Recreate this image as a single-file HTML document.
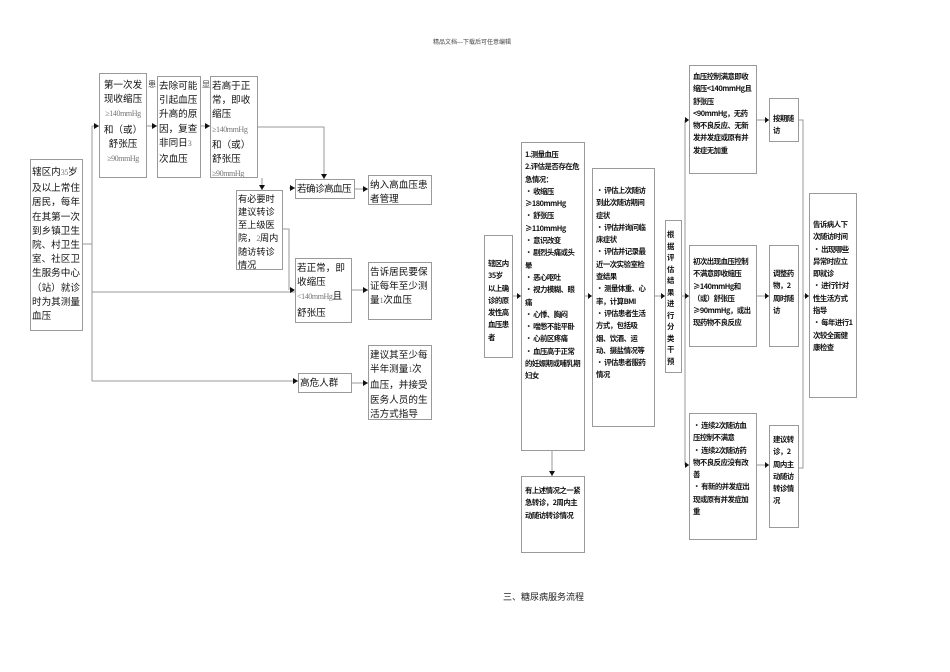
<!DOCTYPE html>
<html><head><meta charset="utf-8"><style>
*{margin:0;padding:0;box-sizing:border-box}
body{width:950px;height:672px;background:#fff;position:relative;overflow:hidden;font-family:"Liberation Sans","Noto Sans CJK SC",sans-serif;color:#111}
.b{position:absolute;border:1px solid #9a9a9a;background:#fff;font-size:9.6px;line-height:14.2px;padding:1px 1px;overflow:hidden;font-family:"Noto Sans CJK SC",sans-serif}
.s{font-size:7.4px;line-height:12.3px;letter-spacing:-0.5px;font-weight:bold;padding:2px 3px}
.g{color:#777;font-family:"Liberation Serif",serif;font-size:8px;letter-spacing:-0.4px}
svg{position:absolute;left:0;top:0}
.t{position:absolute;font-size:6px;color:#444}
</style></head><body>
<div class="t" style="left:433px;top:37px">精品文档---下载后可任意编辑</div>
<svg width="950" height="672" stroke="#999" stroke-width="1" fill="none">
<g>
<path d="M82 244H92M92 126V381M92 126H99M92 292H295M92 381H298"/>
<path d="M147 126H157M201 126H210M258 127H324V179M262 178V190M283 229H289V290M289 188H295M355 189H368M352 290H368M352 383H368"/>
<path d="M513 296H521M552 451V476M585 296H592M655 296H665M681 296H689M685 120V465M685 120H689M685 465H689"/>
<path d="M757 120H769M757 296H769M757 465H769M798 120H803V468H798M803 296H809"/>
</g>
<g fill="#111" stroke="none">
<path d="M99 126l-5-3v6z"/><path d="M157 126l-5-3v6z"/><path d="M210 126l-5-3v6z"/>
<path d="M324 179l-3-5h6z"/><path d="M262 190l-3-5h6z"/>
<path d="M295 188l-5-3v6z"/><path d="M295 290l-5-3v6z"/><path d="M298 381l-5-3v6z"/>
<path d="M368 189l-5-3v6z"/><path d="M368 290l-5-3v6z"/><path d="M368 383l-5-3v6z"/>
<path d="M521 296l-4-3v6z"/><path d="M552 476l-3-5h6z"/><path d="M592 296l-4-3v6z"/><path d="M665 296l-4-3v6z"/>
<path d="M689 120l-4-3v6z"/><path d="M689 296l-4-3v6z"/><path d="M689 465l-4-3v6z"/>
<path d="M769 120l-4-3v6z"/><path d="M769 296l-4-3v6z"/><path d="M769 465l-4-3v6z"/><path d="M809 296l-4-3v6z"/>
</g>
</svg>
<div class="t" style="left:94px;top:79px;font-size:8px">（</div>
<div class="t" style="left:148px;top:79px;font-size:8px">患</div>
<div class="t" style="left:202px;top:79px;font-size:8px">显</div>
<div class="b" style="left:30px;top:159px;width:53px;height:172px;padding-top:4px">辖区内<span class="g">35</span>岁及以上常住居民，每年在其第一次到乡镇卫生院、村卫生室、社区卫生服务中心（站）就诊时为其测量血压</div>
<div class="b" style="left:99px;top:73px;width:48px;height:105px;text-align:center;padding-top:3px">第一次发现收缩压<br><span class="g">≥140mmHg</span><br>和（或）<br>舒张压<br><span class="g">≥90mmHg</span></div>
<div class="b" style="left:157px;top:76px;width:44px;height:102px">去除可能引起血压升高的原因，复查非同日<span class="g">3</span>次血压</div>
<div class="b" style="left:210px;top:76px;width:48px;height:102px">若高于正常，即收缩压<br><span class="g">≥140mmHg</span><br>和（或）<br>舒张压<br><span class="g">≥90mmHg</span></div>
<div class="b" style="left:236px;top:190px;width:47px;height:80px;font-size:9.2px;line-height:13px">有必要时建议转诊至上级医院，<span class="g">2</span>周内随访转诊情况</div>
<div class="b" style="left:295px;top:179px;width:60px;height:20px;letter-spacing:-0.6px;white-space:nowrap">若确诊高血压</div>
<div class="b" style="left:368px;top:175px;width:64px;height:30px">纳入高血压患者管理</div>
<div class="b" style="left:295px;top:258px;width:57px;height:65px">若正常，即收缩压<br><span class="g">&lt;140mmHg</span>且舒张压<span class="g">&lt;90mmHg</span></div>
<div class="b" style="left:368px;top:262px;width:64px;height:58px">告诉居民要保证每年至少测量<span class="g">1</span>次血压</div>
<div class="b" style="left:298px;top:373px;width:54px;height:20px">高危人群</div>
<div class="b" style="left:368px;top:345px;width:64px;height:75px">建议其至少每半年测量<span class="g">1</span>次血压，并接受医务人员的生活方式指导</div>

<div class="b s" style="left:484px;top:235px;width:29px;height:123px;padding-top:22px">辖区内35岁以上确诊的原发性高血压患者</div>
<div class="b s" style="left:521px;top:142px;width:64px;height:309px;padding-top:6px">1.测量血压<br>2.评估是否存在危急情况：<br>• 收缩压≥180mmHg<br>• 舒张压≥110mmHg<br>• 意识改变<br>• 剧烈头痛或头晕<br>• 恶心呕吐<br>• 视力模糊、眼痛<br>• 心悸、胸闷<br>• 喘憋不能平卧<br>• 心前区疼痛<br>• 血压高于正常的妊娠期或哺乳期妇女</div>
<div class="b s" style="left:521px;top:476px;width:64px;height:77px;padding-top:8px">有上述情况之一紧急转诊，2周内主动随访转诊情况</div>
<div class="b s" style="left:592px;top:168px;width:63px;height:259px;padding-top:16px">• 评估上次随访到此次随访期间症状<br>• 评估并询问临床症状<br>• 评估并记录最近一次实验室检查结果<br>• 测量体重、心率，计算BMI<br>• 评估患者生活方式，包括吸烟、饮酒、运动、摄盐情况等<br>• 评估患者服药情况</div>
<div class="b s" style="left:665px;top:220px;width:17px;height:153px;padding:8px 1px;line-height:11.5px">根据评估结果进行分类干预</div>
<div class="b s" style="left:689px;top:65px;width:68px;height:109px;padding-top:5px">血压控制满意即收缩压&lt;140mmHg且舒张压&lt;90mmHg，无药物不良反应、无新发并发症或原有并发症无加重</div>
<div class="b s" style="left:689px;top:245px;width:68px;height:102px;padding-top:10px">初次出现血压控制不满意即收缩压≥140mmHg和（或）舒张压≥90mmHg，或出现药物不良反应</div>
<div class="b s" style="left:689px;top:413px;width:68px;height:127px;padding-top:6px">• 连续2次随访血压控制不满意<br>• 连续2次随访药物不良反应没有改善<br>• 有新的并发症出现或原有并发症加重</div>
<div class="b s" style="left:769px;top:98px;width:30px;height:44px;padding-top:14px">按期随访</div>
<div class="b s" style="left:769px;top:245px;width:30px;height:102px;padding-top:22px">调整药物，2周时随访</div>
<div class="b s" style="left:769px;top:425px;width:30px;height:103px;padding-top:8px">建议转诊，2周内主动随访转诊情况</div>
<div class="b s" style="left:809px;top:193px;width:48px;height:205px;padding-top:25px">告诉病人下次随访时间<br>• 出现哪些异常时应立即就诊<br>• 进行针对性生活方式指导<br>• 每年进行1次较全面健康检查</div>
<div class="t" style="left:503px;top:590px;font-size:9px;color:#222;font-family:'Noto Sans CJK SC',sans-serif">三、糖尿病服务流程</div>
</body></html>
